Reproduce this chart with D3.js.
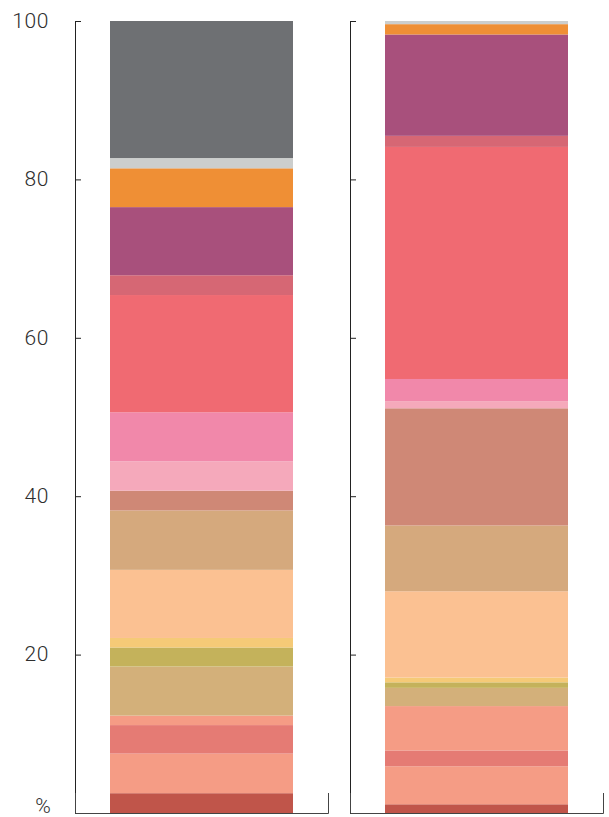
<!DOCTYPE html>
<html>
<head>
<meta charset="utf-8">
<script src="https://cdn.jsdelivr.net/npm/d3@7"></script>
<style>
    body { margin: 0; background: #fff; }
    svg { display: block; }
</style>
</head>
<body>
<div id="chart"></div>
<script>
// bars (no visible names in the picture)
const bars = ["left", "right"];

// series, bottom to top
const series = ["s1", "s2", "s3", "s4", "s5", "s6", "s7", "s8", "s9",
                "s10", "s11", "s12", "s13", "s14", "s15", "s16", "s17", "s18"];
const colors = ["#c0554a", "#f59c85", "#e57b74", "#f59c85", "#d3b07a", "#c4b25b",
                "#f5ca77", "#fbc192", "#d5a97d", "#cf8876", "#f5a9bb", "#f188aa",
                "#f06a72", "#d66774", "#a8507c", "#ef8f35", "#cccecd", "#6e7073"];

const leftValues  = [2.5, 5.0, 3.6, 1.2, 6.2, 2.4, 1.2, 8.6, 7.5, 2.5, 3.7, 6.2, 14.8, 2.5, 8.6, 4.9, 1.3, 17.3];
const rightValues = [1.1, 4.8, 2.0, 5.6, 2.3, 0.7, 0.6, 10.9, 8.3, 14.8, 0.9, 2.8, 29.3, 1.4, 12.8, 1.3, 0.4, 0.0];

const yTicks = [0, 20, 40, 60, 80, 100];

const width = 609,
    height = 817,
    plotTop = 21,
    plotBottom = 813;

const rows = bars.map((b, i) => {
    const row = { bar: b };
    const vals = i === 0 ? leftValues : rightValues;
    series.forEach((s, j) => row[s] = vals[j]);
    return row;
});

const stacked = d3.stack().keys(series)(rows);

const svg = d3.select("#chart")
    .append("svg")
    .attr("width", width)
    .attr("height", height);

// Scales
const panel = d3.scaleBand()
    .domain(bars)
    .range([75, 603])
    .paddingInner(22 / 275);

const inner = d3.scaleBand()
    .domain(["bar"])
    .range([0, panel.bandwidth()])
    .padding(0.1606);

const y = d3.scaleLinear()
    .domain([0, 100])
    .range([plotBottom, plotTop]);

const color = d3.scaleOrdinal().domain(series).range(colors);

// Bars
svg.append("g")
    .selectAll("g")
    .data(stacked)
    .join("g")
    .attr("fill", d => color(d.key))
    .selectAll("rect")
    .data(d => d)
    .join("rect")
    .attr("x", d => panel(d.data.bar) + inner("bar"))
    .attr("width", inner.bandwidth())
    .attr("y", d => y(d[1]))
    .attr("height", d => y(d[0]) - y(d[1]));

// Axes
bars.forEach((b, i) => {
    const yAxis = d3.axisLeft(y)
        .tickValues(yTicks)
        .tickSizeInner(-6)
        .tickSizeOuter(-6)
        .tickPadding(26)
        .tickFormat(d => (i > 0 || d === 0) ? "" : d);

    const gy = svg.append("g")
        .attr("transform", "translate(" + panel(b) + ",0)")
        .call(yAxis);
    gy.selectAll("path, line").attr("stroke", "#222");
    gy.selectAll("text")
        .attr("fill", "#2e2e2e")
        .attr("dy", "0.3em")
        .style("font-family", "Roboto, 'DejaVu Sans', sans-serif")
        .style("font-weight", 300)
        .style("letter-spacing", "0.6px")
        .style("font-size", "21px");

    const xb = d3.scaleBand().domain([b]).range([0, panel.bandwidth()]);
    const gx = svg.append("g")
        .attr("transform", "translate(" + panel(b) + "," + plotBottom + ")")
        .call(d3.axisBottom(xb).tickSize(0).tickSizeOuter(-20).tickFormat(""));
    gx.select(".domain").attr("stroke", "#444");
});

svg.append("text")
    .attr("x", 43)
    .attr("y", plotBottom)
    .attr("text-anchor", "middle")
    .attr("fill", "#2e2e2e")
    .style("font-family", "Roboto, 'DejaVu Sans', sans-serif")
    .style("font-weight", 300)
    .style("font-size", "21px")
    .text("%");
</script>
</body>
</html>
